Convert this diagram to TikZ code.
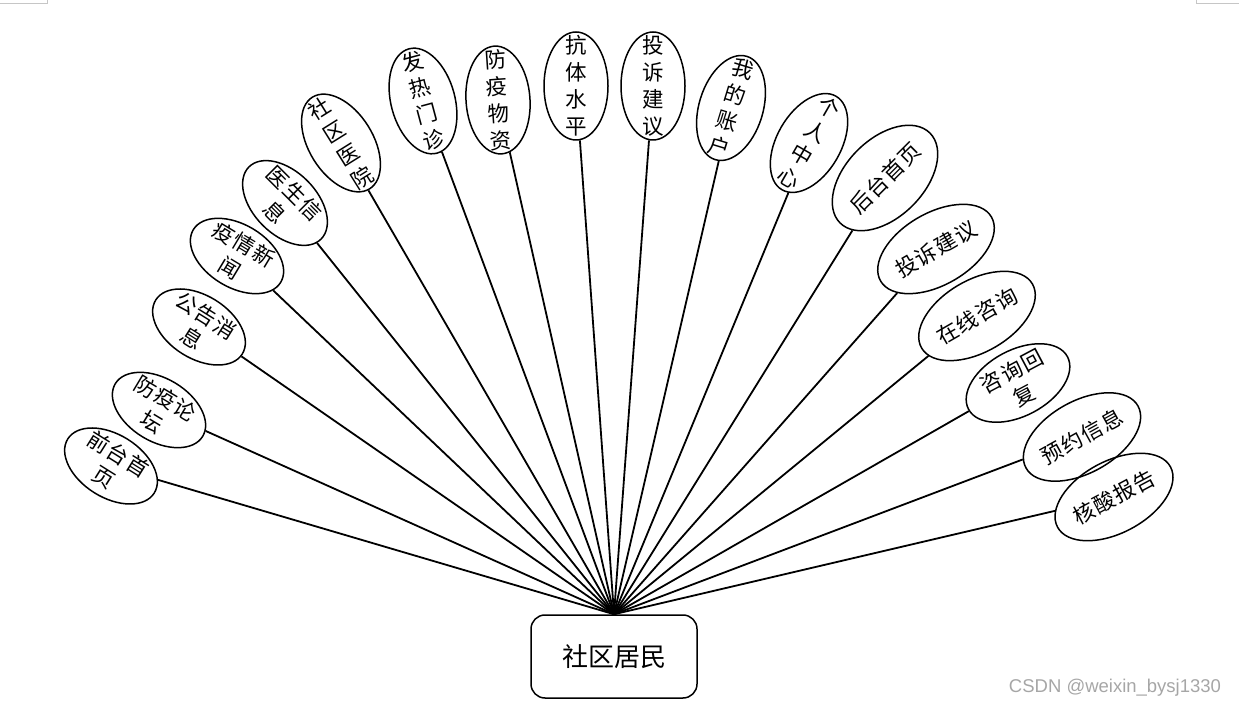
\documentclass[tikz,border=0pt]{standalone}
\usepackage{fontspec}
\setmainfont{Noto Sans CJK SC}
\newfontfamily\bubfont[LetterSpace=6]{Noto Sans CJK SC}
\newfontfamily\markfont{Liberation Sans}
\usetikzlibrary{shapes.geometric}

\begin{document}
\begin{tikzpicture}[x=1pt, y=1pt,
		bub/.style={draw, ellipse, line width=1.5pt, inner xsep=0pt, inner ysep=-16pt, align=center, font=\bubfont\fontsize{21.5}{27}\selectfont},
		wide/.style={bub, minimum width=102, minimum height=63},
		tall/.style={bub, minimum width=64, minimum height=108},
		long/.style={bub, minimum width=128, minimum height=72},
		link/.style={line width=1.8pt}]
	\useasboundingbox (0, 0) rectangle (1239, 707);

	% page corners
	\draw[gray!45, line width=0.8pt] (0, 704) -- (47, 704) -- (47, 707);
	\draw[gray!45, line width=0.8pt] (1196, 707) -- (1196, 704) -- (1239, 704);

	% actor
	\node[draw, rounded corners=14, line width=1.5pt, minimum width=166, minimum height=83, font=\fontsize{26}{30}\selectfont] (res) at (614, 50.5) {社区居民};

	% left
	\node[wide, rotate=-32] (b1) at (111, 241) {前台首\\页};
	\node[wide, rotate=-31] (b2) at (159, 297) {防疫论\\坛};
	\node[wide, rotate=-32] (b3) at (199, 380) {公告消\\息};
	\node[wide, rotate=-31] (b4) at (237, 451) {疫情新\\闻};
	\node[wide, rotate=-45] (b5) at (285, 504) {医生信\\息};

	% top
	\node[tall, rotate=32] (b6) at (341, 564) {社\\区\\医\\院};
	\node[tall, rotate=15] (b7) at (423, 606) {发\\热\\门\\诊};
	\node[tall, rotate=4] (b8) at (498, 607) {防\\疫\\物\\资};
	\node[tall] (b9) at (576, 621) {抗\\体\\水\\平};
	\node[tall] (b10) at (653, 621) {投\\诉\\建\\议};
	\node[tall, rotate=-17] (b11) at (731, 599) {我\\的\\账\\户};
	\node[tall, rotate=-30] (b12) at (809, 564) {个\\人\\中\\心};

	% right
	\node[long, rotate=45, minimum width=124, minimum height=78] (b13) at (885, 529) {后台首页};
	\node[long, rotate=30] (b14) at (936, 458) {投诉建议};
	\node[long, rotate=30] (b15) at (977, 391) {在线咨询};
	\node[long, rotate=28, minimum width=112, minimum height=66] (b16) at (1018, 324) {咨询回\\复};
	\node[long, rotate=29] (b17) at (1082, 270) {预约信息};
	\node[long, rotate=28] (b18) at (1114, 210) {核酸报告};

	\foreach \i in {1, ..., 18} {
		\draw[link] (res.north) -- (b\i);
	}

	\node[font=\markfont\fontsize{18.5}{20}\selectfont, text=gray!70, inner sep=0pt] (wm) at (1115, 19) {CSDN @weixin\_bysj1330};
\end{tikzpicture}
\end{document}
